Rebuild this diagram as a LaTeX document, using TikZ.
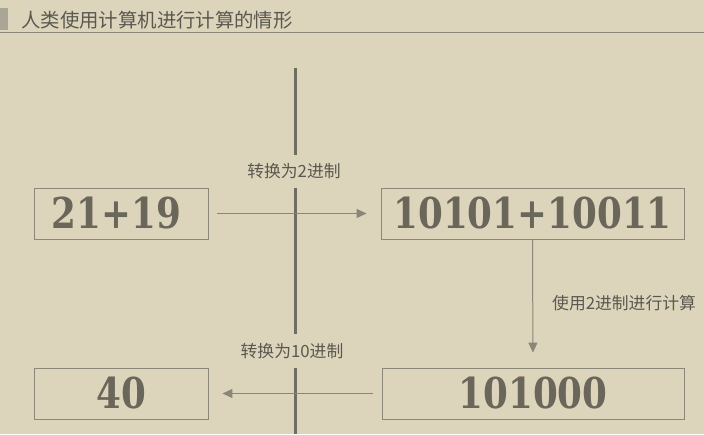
\documentclass[tikz,border=0pt]{standalone}
\usepackage{fontspec}
\newfontfamily\cjk{Noto Sans CJK SC}
\newfontfamily\numfont{DejaVu Serif}
\usetikzlibrary{arrows.meta}
\definecolor{bg}{HTML}{DCD5BC}
\definecolor{numc}{HTML}{6A665A}
\definecolor{boxc}{HTML}{8C8878}
\definecolor{arrc}{HTML}{8A8678}
\definecolor{barc}{HTML}{6F6C62}
\definecolor{txtc}{HTML}{5A5850}
\definecolor{blockc}{HTML}{AAA697}
\newcommand\numtxt[1]{\scalebox{0.84}[1]{#1}}
\tikzset{
  numbox/.style={draw=boxc, line width=0.9pt, minimum height=51pt, inner sep=0pt,
    text=numc, font=\numfont\bfseries\fontsize{42.5}{43}\selectfont},
  arr/.style={draw=arrc, line width=1pt, -{Triangle[length=10pt,width=9pt]}},
  lbl/.style={text=txtc, font=\cjk\fontsize{16.8}{17}\selectfont, inner sep=0pt},
  bar/.style={draw=barc, line width=3pt}
}
\begin{document}
\begin{tikzpicture}[x=1pt,y=1pt]
\fill[bg] (0,0) rectangle (704,434);
\useasboundingbox (0,0) rectangle (704,434);
% title
\fill[blockc] (0,404) rectangle (8,426);
\node[anchor=west, inner sep=0pt, text=txtc, font=\cjk\fontsize{19.4}{20}\selectfont] (title) at (21,414) {人类使用计算机进行计算的情形};
\draw[draw=arrc, line width=0.9pt] (0,402) -- (704,402);
% vertical bar
\coordinate (v1) at (295,366);
\coordinate (v2) at (295,279);
\coordinate (v3) at (295,246);
\coordinate (v4) at (295,100);
\coordinate (v5) at (295,66);
\coordinate (v6) at (295,0);
\draw[bar] (v1) -- (v2);
\draw[bar] (v3) -- (v4);
\draw[bar] (v5) -- (v6);
% boxes
\node[numbox, minimum width=174pt] (b1) at (121,220.5) {\hspace*{-9pt}\numtxt{21+19}};
\node[numbox, minimum width=303pt] (b2) at (532.5,220.5) {\numtxt{10101+10011}};
\node[numbox, minimum width=174pt] (b3) at (121,40.5) {\numtxt{40}};
\node[numbox, minimum width=302pt] (b4) at (533,40.5) {\numtxt{101000}};
% arrows
\draw[arr, shorten <=9pt, shorten >=14pt] (b1) -- (b2);
\draw[arr, shorten >=15pt] (b2.south) -- (b4.north);
\draw[arr, shorten <=9pt, shorten >=14pt] (b4) -- (b3);
% labels
\node[lbl] (l1) at (294,263) {转换为2进制};
\node[lbl, anchor=west] (l2) at (552,131) {使用2进制进行计算};
\node[lbl] (l3) at (292,83) {转换为10进制};
\end{tikzpicture}
\end{document}
